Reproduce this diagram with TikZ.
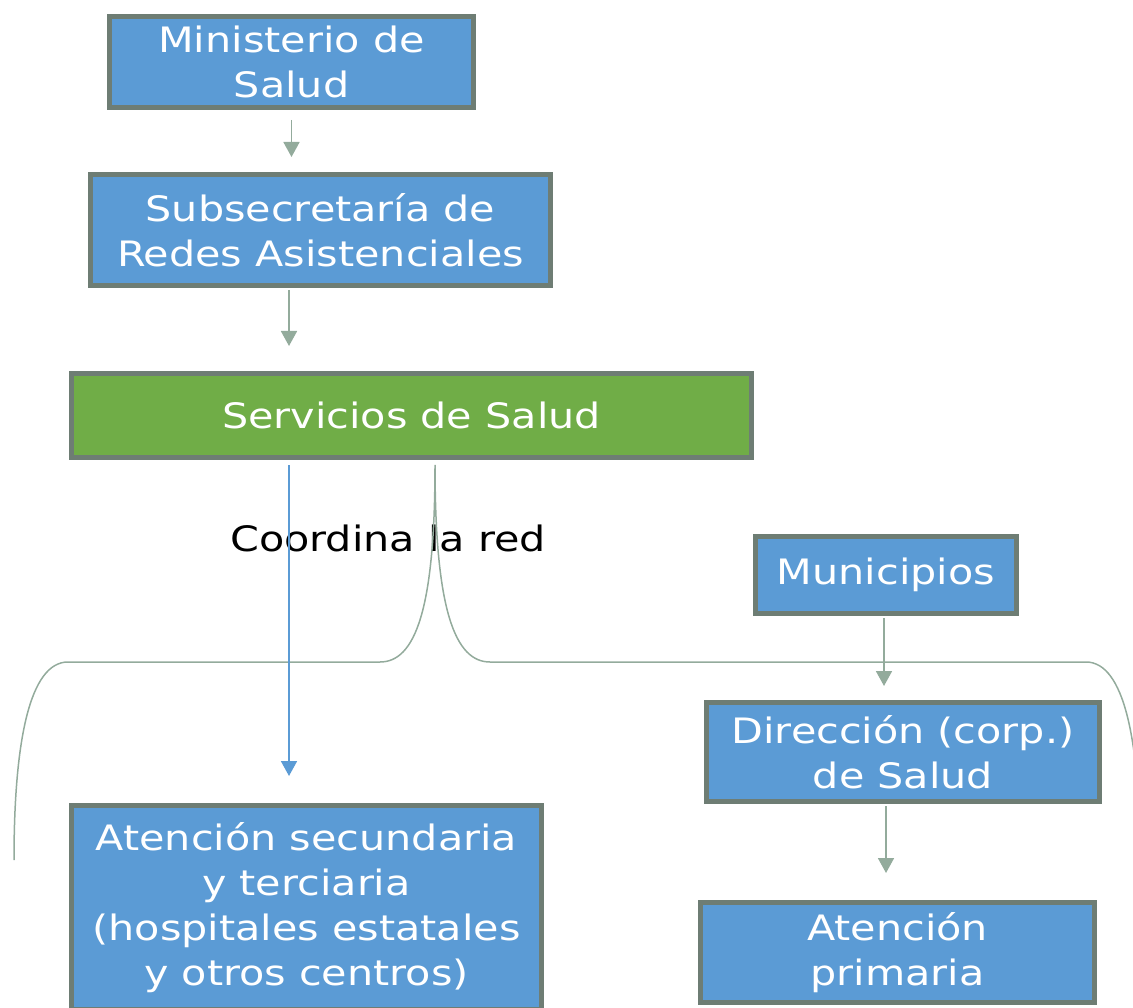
\documentclass[tikz,border=0pt]{standalone}
\usepackage{fontspec}
\setmainfont[FakeStretch=1.18]{DejaVu Sans}
\usepackage{tikz}
\usetikzlibrary{arrows.meta}
\definecolor{boxblue}{HTML}{5B9BD5}
\definecolor{boxgreen}{HTML}{70AD47}
\definecolor{boxedge}{HTML}{6E7D74}
\definecolor{linkgray}{HTML}{93AB9C}
\tikzstyle{orgbox} = [rectangle, draw=boxedge, line width=5pt, fill=boxblue, text=white, align=center, inner sep=0pt, font=\fontsize{35}{45}\selectfont]
\tikzstyle{link} = [draw=linkgray, line width=1.8pt, -{Triangle[width=16pt, length=15pt]}]

\begin{document}
\begin{tikzpicture}[x=1pt, y=-1pt]
        \useasboundingbox (0, 0) rectangle (1133, 1008);
        \node[orgbox, minimum width=364pt, minimum height=91pt] at (291.5, 62) (ministerio) {Ministerio de\\Salud};
        \node[orgbox, minimum width=460pt, minimum height=111pt] at (320.5, 230) (subsec) {Subsecretaría de\\Redes Asistenciales};
        \node[orgbox, fill=boxgreen, minimum width=680pt, minimum height=84pt] at (411.5, 415.5) (servicios) {Servicios de Salud};
        \node[orgbox, minimum width=261pt, minimum height=77pt] at (886, 575) (municipios) {Municipios};
        \node[orgbox, minimum width=393pt, minimum height=99pt] at (903, 752) (direccion) {Dirección (corp.)\\de Salud};
        \node[orgbox, minimum width=394pt, minimum height=100pt] at (897.5, 952.5) (primaria) {Atención\\primaria};
        \node[orgbox, minimum width=470pt, minimum height=204pt] at (306.5, 907.5) (secundaria) {Atención secundaria\\y terciaria\\(hospitales estatales\\y otros centros)};
        \node[font=\fontsize{35}{45}\selectfont] at (388, 538) (coordina) {Coordina la red};

        % brace
        \coordinate (bracetip) at (435, 465);
        \draw[linkgray, line width=1.5pt] (14, 860) .. controls (14, 740) and (30, 662) .. (68, 662) -- (380, 662)
            .. controls (415, 662) and (435, 610) .. (bracetip)
            .. controls (435, 610) and (455, 662) .. (490, 662) -- (1086, 662)
            .. controls (1124, 662) and (1140, 740) .. (1140, 860);

        \draw[link, shorten <=10pt, shorten >=15pt] (ministerio.south) -- (ministerio.south |- subsec.north);
        \draw[link, shorten <=2pt, shorten >=25pt] ([xshift=-31.5pt]subsec.south) -- ([xshift=-31.5pt]subsec.south |- servicios.north);
        \draw[link, draw=boxblue, shorten <=5pt, shorten >=27pt] ([xshift=-122.5pt]servicios.south) -- ([xshift=-122.5pt]servicios.south |- secundaria.north);
        \draw[link, shorten <=2pt, shorten >=14pt] ([xshift=-2pt]municipios.south) -- ([xshift=-2pt]municipios.south |- direccion.north);
        \draw[link, shorten <=2pt, shorten >=27pt] ([xshift=-17pt]direccion.south) -- ([xshift=-17pt]direccion.south |- primaria.north);
    \end{tikzpicture}
\end{document}
